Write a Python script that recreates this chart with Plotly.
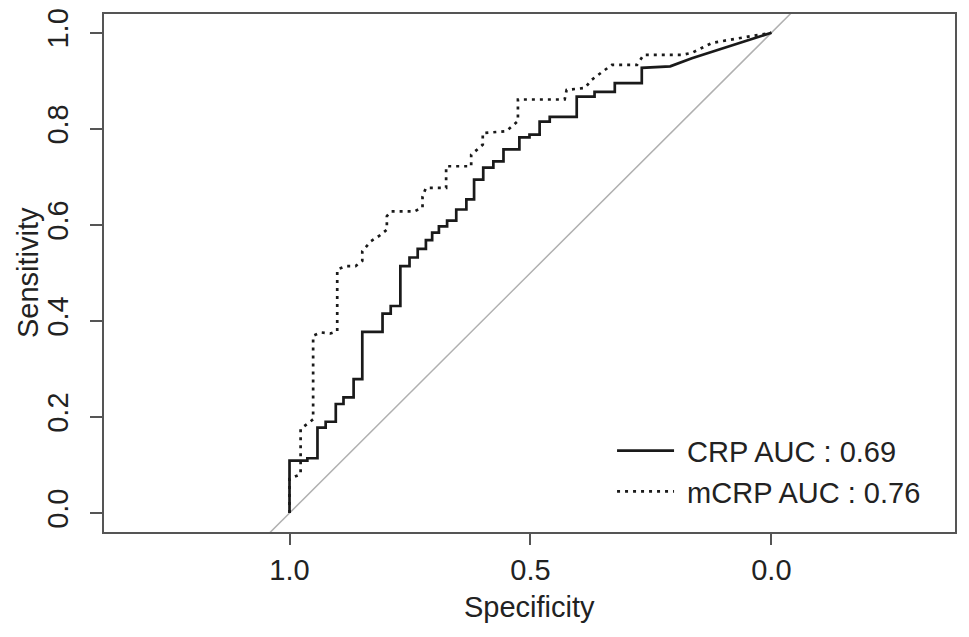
import plotly.graph_objects as go

# CRP ROC curve vertices (specificity, sensitivity)
crp_spec = [1.000, 1.000, 0.963, 0.963, 0.942, 0.942, 0.925, 0.925, 0.904, 0.904,
            0.888, 0.888, 0.867, 0.867, 0.849, 0.849, 0.807, 0.807, 0.790, 0.790,
            0.770, 0.770, 0.751, 0.751, 0.734, 0.734, 0.717, 0.717, 0.704, 0.704,
            0.690, 0.690, 0.673, 0.673, 0.654, 0.654, 0.633, 0.633, 0.617, 0.617,
            0.598, 0.598, 0.577, 0.577, 0.556, 0.556, 0.523, 0.523, 0.502, 0.502,
            0.481, 0.481, 0.460, 0.460, 0.404, 0.404, 0.367, 0.367, 0.325, 0.325,
            0.269, 0.269, 0.210, 0.165, 0.000]
crp_sens = [0.000, 0.109, 0.109, 0.114, 0.114, 0.178, 0.178, 0.190, 0.190, 0.227,
            0.227, 0.241, 0.241, 0.279, 0.279, 0.377, 0.377, 0.415, 0.415, 0.431,
            0.431, 0.514, 0.514, 0.532, 0.532, 0.550, 0.550, 0.568, 0.568, 0.584,
            0.584, 0.597, 0.597, 0.609, 0.609, 0.632, 0.632, 0.653, 0.653, 0.694,
            0.694, 0.719, 0.719, 0.732, 0.732, 0.757, 0.757, 0.782, 0.782, 0.788,
            0.788, 0.815, 0.815, 0.825, 0.825, 0.867, 0.867, 0.877, 0.877, 0.895,
            0.895, 0.927, 0.930, 0.947, 1.000]

# mCRP ROC curve vertices
mcrp_spec = [1.000, 1.000, 0.977, 0.977, 0.951, 0.951, 0.935, 0.915, 0.901, 0.901,
             0.883, 0.863, 0.849, 0.849, 0.831, 0.814, 0.798, 0.798, 0.790, 0.741,
             0.724, 0.724, 0.717, 0.675, 0.675, 0.623, 0.623, 0.599, 0.599, 0.550,
             0.526, 0.526, 0.429, 0.425, 0.387, 0.373, 0.349, 0.331, 0.279, 0.265,
             0.185, 0.165, 0.123, 0.000]
mcrp_sens = [0.000, 0.071, 0.081, 0.175, 0.195, 0.369, 0.376, 0.374, 0.379, 0.507,
             0.514, 0.514, 0.525, 0.545, 0.566, 0.577, 0.590, 0.618, 0.628, 0.628,
             0.636, 0.659, 0.677, 0.677, 0.722, 0.722, 0.746, 0.767, 0.791, 0.795,
             0.816, 0.861, 0.861, 0.881, 0.885, 0.902, 0.920, 0.933, 0.933, 0.954,
             0.954, 0.958, 0.979, 1.000]

legend_names = ["CRP AUC : 0.69", "mCRP AUC : 0.76"]
x_ticks = [1.0, 0.5, 0.0]
y_ticks = [0.0, 0.2, 0.4, 0.6, 0.8, 1.0]

# chance diagonal (sens = 1 - spec), clipped by the axes
diag_spec = [1.6, -0.6]
diag_sens = [1 - s for s in diag_spec]

FONT = "Liberation Sans, Arial, Helvetica, sans-serif"
TXT = "#222222"
AX = "#555555"
FS = 29

fig = go.Figure()
fig.add_trace(go.Scatter(x=diag_spec, y=diag_sens, mode="lines",
                         line=dict(color="#b0b0b0", width=1.5),
                         showlegend=False, hoverinfo="skip"))
fig.add_trace(go.Scatter(x=crp_spec, y=crp_sens, mode="lines",
                         name="\u00a0" + legend_names[0],
                         line=dict(color="#1a1a1a", width=2.7)))
fig.add_trace(go.Scatter(x=mcrp_spec, y=mcrp_sens, mode="lines",
                         name="\u00a0" + legend_names[1],
                         line=dict(color="#1a1a1a", width=2.7, dash="3px,5px")))

fig.update_layout(
    width=969, height=637,
    margin=dict(l=104, r=14, t=14, b=105),
    paper_bgcolor="white", plot_bgcolor="white",
    font=dict(family=FONT, size=FS, color=TXT),
    showlegend=True,
    legend=dict(x=0.597, y=0.206, xanchor="left", yanchor="top",
                bgcolor="rgba(0,0,0,0)", font=dict(size=FS, color=TXT),
                itemwidth=57, tracegroupgap=0),
    annotations=[
        dict(text="Specificity", x=0.5, y=0, xref="paper", yref="paper",
             xanchor="center", yanchor="middle", yshift=-75, showarrow=False,
             font=dict(size=FS, color=TXT)),
        dict(text="Sensitivity", x=0, y=0.5, xref="paper", yref="paper",
             xanchor="center", yanchor="middle", xshift=-76, textangle=-90,
             showarrow=False, font=dict(size=FS, color=TXT)),
    ],
)
fig.update_xaxes(
    range=[1.385, -0.381], tickvals=x_ticks, ticktext=[f"{v:.1f}" for v in x_ticks],
    showgrid=False, zeroline=False, showline=True, mirror=True, automargin=False,
    linecolor=AX, linewidth=2, ticks="outside", ticklen=11, tickwidth=2, tickcolor=AX,
)
fig.update_yaxes(
    range=[-0.0395, 1.039], tickvals=y_ticks, ticktext=[f"{v:.1f}" for v in y_ticks],
    tickangle=-90, automargin=False, ticklabelstandoff=10,
    showgrid=False, zeroline=False, showline=True, mirror=True,
    linecolor=AX, linewidth=2, ticks="outside", ticklen=12, tickwidth=2, tickcolor=AX,
)

fig.write_html("out.html", config={"displayModeBar": False},
               post_script="document.body.style.margin='0';")
